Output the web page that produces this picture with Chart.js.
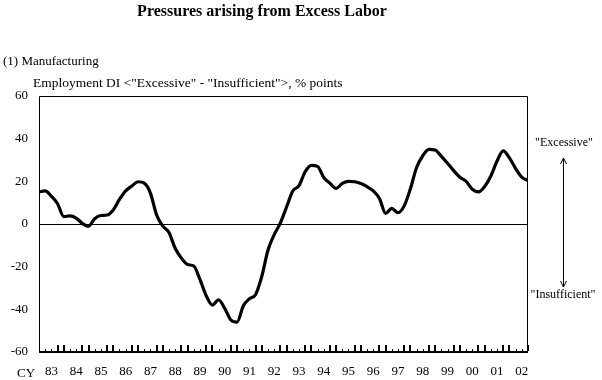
<!DOCTYPE html>
<html><head><meta charset="utf-8">
<script src="https://cdn.jsdelivr.net/npm/chart.js@4/dist/chart.umd.min.js"></script>
<style>html,body{margin:0;padding:0;background:#fff}canvas{display:block}</style>
</head><body>
<canvas id="c" width="602" height="380"></canvas>
<script>
// Quarterly Employment DI (manufacturing), 1983 Q1 .. 2002 Q4
const startYear = 1983;
const yearLabels = ["83","84","85","86","87","88","89","90","91","92","93","94","95","96","97","98","99","00","01","02"];
const diValues = [
  15, 15.5, 13, 9.5,          // 83
  3.5, 3.8, 2.8, 0.3,         // 84
  -1, 2.5, 4, 4.2,            // 85
  6.6, 11.5, 15.5, 17.8,      // 86
  19.8, 19.2, 14.5, 4.2,      // 87
  -1, -4, -11.4, -16,         // 88
  -19, -19.7, -26, -33.5,     // 89
  -38, -35.5, -39.5, -45,     // 90
  -46, -38.4, -35, -33,       // 91
  -24.5, -12.2, -5, 0.5,      // 92
  8, 15.5, 18, 24.5,          // 93
  27.5, 27, 21.8, 19.1,       // 94
  16.7, 19, 20, 19.8,         // 95
  19, 17.5, 15.5, 12,         // 96
  5, 7.3, 5.3, 8.5,           // 97
  16.5, 26.5, 32, 35,         // 98
  34.7, 31.7, 28.5, 25,       // 99
  21.9, 20, 16.3, 15.1,       // 00
  17.6, 22.5, 29.5, 34.3,     // 01
  31, 26, 22, 20.3            // 02
];
const yTicks = [60, 40, 20, 0, -20, -40, -60];

const FONT = '"Liberation Serif", "Times New Roman", serif';
Chart.defaults.font.family = FONT;
Chart.defaults.color = '#000';

const decor = {
  id: 'decor',
  afterDraw(chart) {
    const ctx = chart.ctx, a = chart.chartArea, xs = chart.scales.x;
    ctx.save();
    ctx.fillStyle = '#000';
    ctx.strokeStyle = '#000';
    // frame
    ctx.lineWidth = 1;
    ctx.beginPath();
    ctx.moveTo(a.left + 0.5, a.bottom);
    ctx.lineTo(a.left + 0.5, a.top + 0.5);
    ctx.lineTo(a.right - 0.5, a.top + 0.5);
    ctx.lineTo(a.right - 0.5, a.bottom);
    ctx.stroke();
    ctx.fillRect(a.left, a.bottom - 1, a.right - a.left, 2);
    // quarterly tick marks (inward)
    for (let i = 1; i < diValues.length; i++) {
      const x = xs.getPixelForValue(startYear + i / 4);
      if (i % 4 === 3 || i % 4 === 0) ctx.fillRect(Math.round(x) - 1, a.bottom - 7, 2, 6);
      else ctx.fillRect(Math.round(x), a.bottom - 3, 1, 2);
    }
    // texts
    ctx.textBaseline = 'alphabetic';
    ctx.textAlign = 'center';
    ctx.font = 'bold 16px ' + FONT;
    ctx.fillText('Pressures arising from Excess Labor', 262, 16);
    ctx.textAlign = 'left';
    ctx.font = '13px ' + FONT;
    ctx.fillText('(1) Manufacturing', 3, 65);
    ctx.font = '13.5px ' + FONT;
    ctx.fillText('Employment DI <"Excessive" - "Insufficient">, % points', 33, 87);
    ctx.font = '13px ' + FONT;
    ctx.fillText('CY', 17, 377);
    ctx.textAlign = 'center';
    ctx.font = '12px ' + FONT;
    ctx.fillText('"Excessive"', 564, 146);
    ctx.fillText('"Insufficient"', 563, 298);
    // arrow
    const ax = 563.5;
    ctx.beginPath();
    ctx.moveTo(ax, 158); ctx.lineTo(ax, 287);
    ctx.moveTo(ax - 3, 164); ctx.lineTo(ax, 158); ctx.lineTo(ax + 3, 164);
    ctx.moveTo(ax - 3, 281); ctx.lineTo(ax, 287); ctx.lineTo(ax + 3, 281);
    ctx.stroke();
    ctx.restore();
  }
};

new Chart(document.getElementById('c'), {
  type: 'line',
  data: {
    datasets: [{
      data: diValues.map((v, i) => ({ x: startYear + i / 4, y: v })),
      borderColor: '#000',
      borderWidth: 3.2,
      pointRadius: 0,
      cubicInterpolationMode: 'monotone',
      fill: false
    }]
  },
  options: {
    responsive: false,
    animation: false,
    devicePixelRatio: 1,
    layout: { padding: { top: 96, right: 74, left: 0, bottom: 0 } },
    plugins: { legend: { display: false }, tooltip: { enabled: false }, title: { display: false } },
    scales: {
      x: {
        type: 'linear',
        min: startYear,
        max: startYear + (diValues.length - 1) / 4,
        afterBuildTicks: s => { s.ticks = yearLabels.map((l, k) => ({ value: startYear + k + 0.5 })); },
        afterFit: s => { s.height = 28; },
        ticks: {
          autoSkip: false, maxRotation: 0, padding: 12,
          font: { size: 13 }, color: '#000',
          callback: v => yearLabels[Math.round(v - startYear - 0.5)]
        },
        grid: { display: false, drawTicks: false },
        border: { display: false }
      },
      y: {
        min: -60, max: 60,
        afterBuildTicks: s => { s.ticks = yTicks.map(v => ({ value: v })); },
        afterFit: s => { s.width = 39; },
        ticks: { padding: 11, font: { size: 13 }, color: '#000' },
        grid: {
          drawTicks: false,
          color: c => (c.tick && c.tick.value === 0) ? '#000' : 'rgba(0,0,0,0)',
          lineWidth: 1
        },
        border: { display: false }
      }
    }
  },
  plugins: [decor]
});
</script>
</body></html>
